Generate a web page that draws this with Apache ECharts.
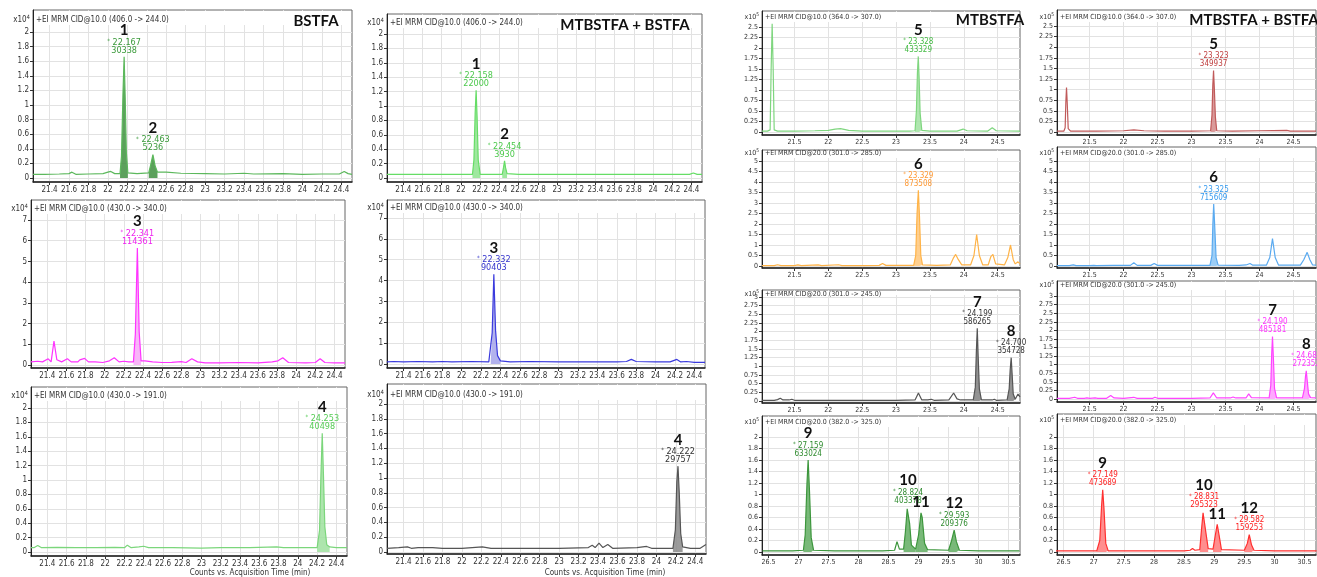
<!DOCTYPE html>
<html><head><meta charset="utf-8">
<script src="https://cdn.jsdelivr.net/npm/echarts@6.0.0/dist/echarts.min.js"></script>
<style>html,body{margin:0;padding:0;background:#fff}#c{width:1317px;height:577px}</style>
</head><body><div id="c"></div><script>
// ---------- tick labels ----------
const ticksLeftX = [21.4,21.6,21.8,22,22.2,22.4,22.6,22.8,23,23.2,23.4,23.6,23.8,24,24.2,24.4];
const ticksRightX = [21.5,22,22.5,23,23.5,24,24.5];
const ticksRight4X = [26.5,27,27.5,28,28.5,29,29.5,30,30.5];
const ticks0to2 = [0,0.2,0.4,0.6,0.8,1,1.2,1.4,1.6,1.8,2];
const ticks0to7 = [0,1,2,3,4,5,6,7];
const ticks0to25 = [0,0.25,0.5,0.75,1,1.25,1.5,1.75,2,2.25,2.5];
const ticks0to5 = [0,0.5,1,1.5,2,2.5,3,3.5,4,4.5,5];
const ticks0to3 = [0,0.25,0.5,0.75,1,1.25,1.5,1.75,2,2.25,2.5,2.75,3];
const ticksB7 = [0,0.2,0.4,0.6,0.8,1,1.2,1.4,1.6,1.8,2];

// ---------- traces [time (min), counts] ----------
const traceA1 = [[21.23,0.05],[21.35,0.05],[21.5,0.055],[21.6,0.06],[21.63,0.08],[21.67,0.05],[21.8,0.055],[21.95,0.06],[22.0,0.08],[22.03,0.09],[22.07,0.06],[22.125,0.06],[22.14,0.3],[22.155,1.15],[22.167,1.66],[22.178,1.1],[22.19,0.35],[22.205,0.07],[22.3,0.06],[22.42,0.07],[22.44,0.18],[22.463,0.32],[22.485,0.17],[22.51,0.08],[22.6,0.08],[22.75,0.065],[23.0,0.06],[23.2,0.055],[23.4,0.065],[23.5,0.055],[23.8,0.06],[24.0,0.05],[24.2,0.055],[24.38,0.055],[24.43,0.09],[24.47,0.06],[24.51,0.05]];
const traceA2 = [[21.23,0.05],[21.5,0.05],[21.8,0.05],[22.0,0.05],[22.12,0.05],[22.135,0.25],[22.148,0.9],[22.158,1.22],[22.168,0.85],[22.18,0.25],[22.2,0.05],[22.35,0.05],[22.43,0.05],[22.444,0.15],[22.454,0.24],[22.465,0.14],[22.48,0.06],[22.6,0.05],[23.0,0.05],[23.5,0.05],[24.0,0.05],[24.38,0.05],[24.42,0.07],[24.46,0.05],[24.51,0.05]];
const traceA3 = [[21.23,0.15],[21.3,0.18],[21.35,0.15],[21.41,0.3],[21.44,0.15],[21.47,1.15],[21.5,0.25],[21.55,0.15],[21.61,0.3],[21.65,0.15],[21.72,0.15],[21.74,0.25],[21.79,0.32],[21.83,0.15],[21.9,0.15],[21.98,0.12],[22.05,0.2],[22.1,0.35],[22.15,0.15],[22.2,0.18],[22.25,0.15],[22.3,0.15],[22.32,1.5],[22.341,5.65],[22.36,1.6],[22.38,0.2],[22.42,0.2],[22.5,0.15],[22.6,0.12],[22.7,0.13],[22.8,0.16],[22.85,0.12],[22.91,0.3],[22.97,0.15],[23.05,0.1],[23.2,0.1],[23.4,0.12],[23.6,0.1],[23.75,0.15],[23.81,0.2],[23.86,0.35],[23.92,0.12],[24.1,0.1],[24.2,0.12],[24.25,0.3],[24.3,0.12],[24.4,0.1],[24.51,0.1]];
const traceA4 = [[21.23,0.1],[21.3,0.12],[21.4,0.1],[21.55,0.12],[21.7,0.1],[21.8,0.12],[21.9,0.1],[22.1,0.12],[22.28,0.1],[22.3,0.15],[22.315,1.5],[22.332,4.3],[22.35,1.6],[22.37,0.4],[22.4,0.15],[22.5,0.1],[22.7,0.12],[23.0,0.1],[23.3,0.1],[23.6,0.1],[23.7,0.12],[23.75,0.22],[23.8,0.12],[24.0,0.1],[24.15,0.1],[24.22,0.22],[24.26,0.1],[24.32,0.12],[24.4,0.08],[24.51,0.08]];
const traceA5 = [[21.23,0.06],[21.26,0.06],[21.3,0.09],[21.34,0.06],[21.5,0.065],[21.7,0.06],[21.9,0.06],[22.1,0.065],[22.2,0.06],[22.23,0.095],[22.27,0.06],[22.35,0.07],[22.4,0.08],[22.45,0.06],[22.7,0.06],[23.0,0.055],[23.2,0.06],[23.5,0.06],[23.78,0.07],[23.85,0.06],[24.1,0.06],[24.2,0.06],[24.225,0.3],[24.24,1.1],[24.253,1.65],[24.265,1.1],[24.28,0.35],[24.3,0.1],[24.33,0.07],[24.4,0.06],[24.51,0.06]];
const traceA6 = [[21.23,0.05],[21.35,0.06],[21.44,0.07],[21.48,0.05],[21.55,0.06],[21.7,0.06],[21.8,0.05],[22.0,0.05],[22.21,0.07],[22.3,0.05],[22.5,0.05],[22.8,0.05],[23.0,0.05],[23.3,0.06],[23.34,0.09],[23.37,0.06],[23.41,0.12],[23.45,0.06],[23.5,0.1],[23.55,0.05],[23.8,0.06],[23.9,0.075],[23.95,0.05],[24.17,0.05],[24.195,0.3],[24.21,0.95],[24.222,1.16],[24.235,0.8],[24.25,0.25],[24.27,0.07],[24.35,0.05],[24.45,0.05],[24.51,0.1]];
const traceB1 = [[21.02,0.02],[21.1,0.02],[21.14,0.05],[21.155,1.5],[21.17,2.58],[21.185,1.5],[21.2,0.05],[21.25,0.02],[21.5,0.02],[21.8,0.03],[22.0,0.04],[22.1,0.07],[22.18,0.08],[22.3,0.04],[22.5,0.02],[22.8,0.02],[23.2,0.02],[23.28,0.03],[23.3,0.5],[23.315,1.4],[23.328,1.8],[23.34,1.3],[23.355,0.45],[23.38,0.04],[23.5,0.02],[23.9,0.02],[23.99,0.07],[24.05,0.03],[24.35,0.02],[24.42,0.1],[24.48,0.03],[24.83,0.02]];
const traceB2 = [[21.02,0.02],[21.12,0.02],[21.14,0.1],[21.15,0.7],[21.16,1.05],[21.17,0.7],[21.185,0.08],[21.22,0.02],[21.6,0.02],[22.0,0.03],[22.15,0.05],[22.3,0.03],[22.6,0.02],[23.0,0.02],[23.28,0.03],[23.3,0.4],[23.312,1.1],[23.323,1.45],[23.335,1.0],[23.35,0.35],[23.37,0.03],[23.6,0.02],[24.0,0.03],[24.4,0.04],[24.45,0.02],[24.83,0.02]];
const traceB3 = [[21.02,0.02],[21.2,0.02],[21.25,0.06],[21.3,0.02],[21.5,0.02],[21.55,0.05],[21.6,0.02],[21.85,0.05],[21.9,0.02],[22.15,0.06],[22.2,0.02],[22.5,0.02],[22.75,0.03],[22.8,0.12],[22.85,0.03],[23.26,0.03],[23.29,0.5],[23.31,2.5],[23.329,3.6],[23.345,2.4],[23.365,0.5],[23.39,0.05],[23.6,0.03],[23.8,0.05],[23.85,0.4],[23.88,0.55],[23.92,0.3],[23.97,0.05],[24.1,0.05],[24.15,0.5],[24.19,1.5],[24.23,0.5],[24.28,0.05],[24.36,0.05],[24.4,0.45],[24.43,0.55],[24.47,0.1],[24.6,0.05],[24.65,0.4],[24.69,1.0],[24.73,0.3],[24.76,0.1],[24.8,0.2],[24.83,0.1]];
const traceB4 = [[21.02,0.02],[21.2,0.02],[21.26,0.05],[21.3,0.02],[21.5,0.02],[21.56,0.03],[21.6,0.02],[21.85,0.03],[22.1,0.03],[22.15,0.15],[22.2,0.03],[22.4,0.03],[22.45,0.12],[22.5,0.03],[23.27,0.03],[23.3,0.5],[23.313,2.0],[23.325,2.95],[23.34,1.9],[23.36,0.4],[23.39,0.04],[23.7,0.03],[23.8,0.05],[23.86,0.12],[23.9,0.04],[24.1,0.04],[24.15,0.4],[24.19,1.3],[24.23,0.4],[24.28,0.04],[24.6,0.04],[24.65,0.3],[24.7,0.65],[24.74,0.3],[24.78,0.05],[24.83,0.04]];
const traceB5 = [[21.02,0.02],[21.2,0.02],[21.25,0.04],[21.29,0.08],[21.33,0.03],[21.42,0.03],[21.46,0.05],[21.5,0.02],[22.0,0.02],[22.5,0.02],[23.0,0.02],[23.28,0.03],[23.33,0.23],[23.38,0.03],[23.47,0.03],[23.52,0.05],[23.56,0.02],[23.78,0.03],[23.85,0.23],[23.9,0.06],[23.95,0.03],[24.14,0.03],[24.17,0.4],[24.185,1.4],[24.199,2.1],[24.212,1.3],[24.23,0.35],[24.26,0.03],[24.42,0.03],[24.45,0.05],[24.48,0.02],[24.64,0.03],[24.67,0.35],[24.685,0.9],[24.7,1.25],[24.713,0.8],[24.73,0.2],[24.76,0.05],[24.8,0.2],[24.83,0.12]];
const traceB6 = [[21.02,0.02],[21.2,0.02],[21.28,0.05],[21.32,0.02],[21.42,0.02],[21.46,0.03],[21.5,0.02],[21.58,0.03],[21.62,0.02],[21.75,0.02],[21.81,0.1],[21.86,0.03],[22.0,0.02],[22.15,0.05],[22.2,0.02],[22.43,0.02],[22.46,0.05],[22.5,0.02],[23.0,0.02],[23.27,0.03],[23.32,0.18],[23.37,0.03],[23.57,0.03],[23.61,0.06],[23.65,0.03],[23.8,0.03],[23.84,0.15],[23.88,0.04],[24.14,0.03],[24.165,0.4],[24.178,1.3],[24.19,1.82],[24.203,1.2],[24.22,0.3],[24.25,0.03],[24.63,0.03],[24.66,0.3],[24.675,0.65],[24.687,0.82],[24.7,0.55],[24.72,0.15],[24.75,0.04],[24.83,0.03]];
const traceB7 = [[26.4,0.02],[26.6,0.02],[26.9,0.02],[27.08,0.03],[27.11,0.3],[27.14,1.2],[27.159,1.6],[27.18,1.1],[27.21,0.25],[27.25,0.03],[27.6,0.02],[28.0,0.02],[28.4,0.02],[28.6,0.03],[28.64,0.18],[28.68,0.05],[28.75,0.05],[28.78,0.35],[28.81,0.75],[28.824,0.78],[28.85,0.5],[28.88,0.12],[28.95,0.05],[29.0,0.3],[29.04,0.68],[29.06,0.6],[29.1,0.15],[29.15,0.04],[29.5,0.03],[29.55,0.2],[29.593,0.38],[29.63,0.18],[29.68,0.03],[30.0,0.02],[30.68,0.02]];
const traceB8 = [[26.37,0.02],[26.7,0.02],[27.05,0.02],[27.1,0.2],[27.13,0.8],[27.149,1.08],[27.17,0.75],[27.2,0.15],[27.24,0.02],[27.6,0.02],[28.0,0.02],[28.5,0.02],[28.6,0.03],[28.64,0.06],[28.68,0.03],[28.76,0.04],[28.79,0.4],[28.815,0.68],[28.831,0.7],[28.86,0.35],[28.9,0.06],[28.98,0.05],[29.02,0.3],[29.05,0.48],[29.08,0.3],[29.12,0.04],[29.5,0.03],[29.55,0.15],[29.582,0.3],[29.62,0.12],[29.66,0.03],[30.0,0.02],[30.7,0.02]];

// ---------- integrated peaks: number, RT, area, apex, window ----------
const peaksA1 = [{n:'1',rt:'22.167',area:'30338',t:22.167,h:1.66,from:22.125,to:22.205},{n:'2',rt:'22.463',area:'5236',t:22.463,h:0.32,from:22.42,to:22.51}];
const peaksA2 = [{n:'1',rt:'22.158',area:'22000',t:22.158,h:1.22,from:22.12,to:22.2},{n:'2',rt:'22.454',area:'3930',t:22.454,h:0.24,from:22.43,to:22.48}];
const peaksA3 = [{n:'3',rt:'22.341',area:'114361',t:22.341,h:5.65,from:22.3,to:22.38}];
const peaksA4 = [{n:'3',rt:'22.332',area:'90403',t:22.332,h:4.3,from:22.3,to:22.4}];
const peaksA5 = [{n:'4',rt:'24.253',area:'40498',t:24.253,h:1.65,from:24.2,to:24.33}];
const peaksA6 = [{n:'4',rt:'24.222',area:'29757',t:24.222,h:1.16,from:24.17,to:24.27}];
const peaksB1 = [{n:'5',rt:'23.328',area:'433329',t:23.328,h:1.8,from:23.28,to:23.38}];
const peaksB2 = [{n:'5',rt:'23.323',area:'349937',t:23.323,h:1.45,from:23.28,to:23.37}];
const peaksB3 = [{n:'6',rt:'23.329',area:'873508',t:23.329,h:3.6,from:23.26,to:23.39}];
const peaksB4 = [{n:'6',rt:'23.325',area:'715609',t:23.325,h:2.95,from:23.27,to:23.39}];
const peaksB5 = [{n:'7',rt:'24.199',area:'586265',t:24.199,h:2.1,from:24.14,to:24.26},{n:'8',rt:'24.700',area:'354728',t:24.7,h:1.25,from:24.64,to:24.76}];
const peaksB6 = [{n:'7',rt:'24.190',area:'485181',t:24.19,h:1.82,from:24.14,to:24.25},{n:'8',rt:'24.687',area:'272352',t:24.687,h:0.82,from:24.63,to:24.75}];
const peaksB7 = [{n:'9',rt:'27.159',area:'633024',t:27.159,h:1.6,from:27.08,to:27.25},{n:'10',rt:'28.824',area:'403378',t:28.824,h:0.78,from:28.75,to:28.95},{n:'11',rt:null,area:null,t:29.04,h:0.68,from:28.95,to:29.15},{n:'12',rt:'29.593',area:'209376',t:29.593,h:0.38,from:29.5,to:29.68}];
const peaksB8 = [{n:'9',rt:'27.149',area:'473689',t:27.149,h:1.08,from:27.05,to:27.24},{n:'10',rt:'28.831',area:'295323',t:28.831,h:0.7,from:28.76,to:28.9},{n:'11',rt:null,area:null,t:29.05,h:0.48,from:28.98,to:29.12},{n:'12',rt:'29.582',area:'159253',t:29.582,h:0.3,from:29.5,to:29.66}];

// ---------- panel layout & styles ----------
const LX = [21.23,24.51], RX = [21.02,24.83], R4X = [26.39,30.69];
const panels = [
 {tr:traceA1,pk:peaksA1,xt:ticksLeftX,yt:ticks0to2,xr:LX,box:[33,10,352,182],yPx:[32,178],line:'#5cb85c',fill:'#3f8f3f',txt:'#3a9a3a',exp:'4',hdr:'+EI MRM CID@10.0 (406.0 -> 244.0)',hy:20,fs:8},
 {tr:traceA2,pk:peaksA2,xt:ticksLeftX,yt:ticks0to2,xr:LX,box:[387,14,702,182],yPx:[34,178],line:'#66dd66',fill:'#8ee48e',txt:'#4cc94c',exp:'4',hdr:'+EI MRM CID@10.0 (406.0 -> 244.0)',hy:23,fs:8},
 {tr:traceA3,pk:peaksA3,xt:ticksLeftX,yt:ticks0to7,xr:LX,box:[31,200,345,368],yPx:[220,365],line:'#ff33ff',fill:'#f7a8f7',txt:'#ee22ee',exp:'4',hdr:'+EI MRM CID@10.0 (430.0 -> 340.0)',hy:209,fs:8},
 {tr:traceA4,pk:peaksA4,xt:ticksLeftX,yt:ticks0to7,xr:LX,box:[387,200,705,368],yPx:[218,364],line:'#3a3add',fill:'#a4a4ea',txt:'#3333cc',exp:'4',hdr:'+EI MRM CID@10.0 (430.0 -> 340.0)',hy:208,fs:8},
 {tr:traceA5,pk:peaksA5,xt:ticksLeftX,yt:ticks0to2,xr:LX,box:[31,387,347,556],yPx:[408,552],line:'#7bd67b',fill:'#9fe09f',txt:'#55cc55',exp:'4',hdr:'+EI MRM CID@10.0 (430.0 -> 191.0)',hy:396,fs:8},
 {tr:traceA6,pk:peaksA6,xt:ticksLeftX,yt:ticks0to2,xr:LX,box:[387,384,706,554],yPx:[404,552],line:'#555555',fill:'#8a8a8a',txt:'#333333',exp:'4',hdr:'+EI MRM CID@10.0 (430.0 -> 191.0)',hy:395,fs:8},
 {tr:traceB1,pk:peaksB1,xt:ticksRightX,yt:ticks0to25,xr:RX,box:[762,11,1020,135],yPx:[27,132],line:'#7fd67f',fill:'#a2e2a2',txt:'#44bb44',exp:'5',hdr:'+EI MRM CID@10.0 (364.0 -> 307.0)',hy:17,fs:7},
 {tr:traceB2,pk:peaksB2,xt:ticksRightX,yt:ticks0to25,xr:RX,box:[1057,10,1316,135],yPx:[26,132],line:'#c05a5a',fill:'#d48a8a',txt:'#c04040',exp:'5',hdr:'+EI MRM CID@10.0 (364.0 -> 307.0)',hy:17,fs:7},
 {tr:traceB3,pk:peaksB3,xt:ticksRightX,yt:ticks0to5,xr:RX,box:[762,150,1020,268],yPx:[161,266],line:'#ffb347',fill:'#ffc77a',txt:'#ff9933',exp:'5',hdr:'+EI MRM CID@20.0 (301.0 -> 285.0)',hy:153,fs:7},
 {tr:traceB4,pk:peaksB4,xt:ticksRightX,yt:ticks0to5,xr:RX,box:[1057,147,1316,268],yPx:[161,266],line:'#5aaaf0',fill:'#8cc6f5',txt:'#3399ee',exp:'5',hdr:'+EI MRM CID@20.0 (301.0 -> 285.0)',hy:153,fs:7},
 {tr:traceB5,pk:peaksB5,xt:ticksRightX,yt:ticks0to3,xr:RX,box:[762,290,1020,403],yPx:[297,401],line:'#555555',fill:'#808080',txt:'#333333',exp:'5',hdr:'+EI MRM CID@20.0 (301.0 -> 245.0)',hy:294,fs:7},
 {tr:traceB6,pk:peaksB6,xt:ticksRightX,yt:ticks0to3,xr:RX,box:[1057,281,1316,402],yPx:[296,399],line:'#ff44ff',fill:'#ff99ff',txt:'#ff33ff',exp:'5',hdr:'+EI MRM CID@20.0 (301.0 -> 245.0)',hy:285,fs:7},
 {tr:traceB7,pk:peaksB7,xt:ticksRight4X,yt:ticksB7,xr:R4X,box:[762,416,1020,555],yPx:[437,552],line:'#3c963c',fill:'#62ad62',txt:'#2e8b2e',exp:'5',hdr:'+EI MRM CID@20.0 (382.0 -> 325.0)',hy:422,fs:7},
 {tr:traceB8,pk:peaksB8,xt:ticksRight4X,yt:ticksB7,xr:R4X,box:[1057,414,1316,555],yPx:[437,552],line:'#ff3030',fill:'#ff7a7a',txt:'#ff2020',exp:'5',hdr:'+EI MRM CID@20.0 (382.0 -> 325.0)',hy:420,fs:7}
];
const titles = [
 {text:'BSTFA',x:316,y:21},{text:'MTBSTFA + BSTFA',x:625,y:25},
 {text:'MTBSTFA',x:990,y:20},{text:'MTBSTFA + BSTFA',x:1254,y:20}
];
const axisTitles = [{x:250,y:573},{x:605,y:573}];

const NARROW = "'Liberation Sans Narrow','DejaVu Sans Condensed','Liberation Sans',Arial,sans-serif";
const fmt = v => String(+(+v).toFixed(3));

const grids=[], xAxes=[], yAxes=[], series=[], graphics=[];
panels.forEach((p,i)=>{
  const [l,t,r,b] = p.box;
  const top = p.yt[p.yt.length-1];
  const s = (p.yPx[1]-p.yPx[0])/top;
  const ymin = -(b-p.yPx[1])/s, ymax = top + (p.yPx[0]-t)/s;
  grids.push({left:l,top:t,width:r-l,height:b-t,show:true,borderColor:'#666',borderWidth:1,containLabel:false});
  xAxes.push({type:'value',gridIndex:i,min:p.xr[0],max:p.xr[1],
    axisLine:{show:true,onZero:false,lineStyle:{color:'#222',width:1.5}},
    axisTick:{show:true,customValues:p.xt,length:3,lineStyle:{color:'#333'}},
    axisLabel:{customValues:p.xt,fontSize:p.fs,color:'#333',margin:4,fontFamily:NARROW,formatter:fmt,showMinLabel:true,showMaxLabel:true},
    splitLine:{show:true,lineStyle:{color:'#e2e2e2',width:1}}});
  yAxes.push({type:'value',gridIndex:i,min:ymin,max:ymax,
    axisLine:{show:true,onZero:false,lineStyle:{color:'#222',width:1}},
    axisTick:{show:true,customValues:p.yt,length:3,lineStyle:{color:'#333'}},
    axisLabel:{customValues:p.yt,fontSize:p.fs,color:'#333',margin:4,fontFamily:NARROW,formatter:fmt},
    splitLine:{show:true,lineStyle:{color:'#e2e2e2',width:1}}});
  p.pk.forEach(k=>{
    series.push({type:'line',xAxisIndex:i,yAxisIndex:i,showSymbol:false,silent:true,
      data:p.tr.filter(d=>d[0]>=k.from&&d[0]<=k.to),
      lineStyle:{width:0},areaStyle:{color:p.fill,opacity:0.85,origin:'auto'},z:2});
  });
  series.push({type:'line',xAxisIndex:i,yAxisIndex:i,showSymbol:false,silent:true,data:p.tr,
    lineStyle:{color:p.line,width:1.2},z:3,
    markPoint:{symbol:'circle',symbolSize:1,itemStyle:{color:'rgba(0,0,0,0)'},silent:true,
      data:p.pk.map(k=>({coord:[k.t,k.h],label:{show:true,position:'top',distance:2,
        formatter: k.rt ? `{n|${k.n}}\n{s|*}{t| ${k.rt}}\n{t|${k.area}}` : `{n|${k.n}}`}})),
      label:{rich:{
        n:{fontFamily:'Lato, Open Sans, sans-serif',fontWeight:'bold',fontSize:15,color:'#111',lineHeight:16,align:'center'},
        s:{fontSize:6,color:p.txt,fontFamily:NARROW,lineHeight:8,verticalAlign:'top'},
        t:{fontSize:p.fs+1,color:p.txt,fontFamily:NARROW,lineHeight:8,align:'center'}}}}});
  // white header band (hides grid lines behind the header text)
  const bandBottom = Math.min(p.hy+5, p.yPx[0]-2);
  if (bandBottom > t+1) graphics.push({type:'rect',z:1,silent:true,shape:{x:l+1,y:t+1,width:r-l-2,height:bandBottom-t-1},style:{fill:'#fff'}});
  // header texts
  graphics.push({type:'text',z:100,x:l-3,y:p.hy,style:{text:'{a|x10}{b|'+p.exp+'}',align:'right',verticalAlign:'middle',
    rich:{a:{fontSize:p.fs,fill:'#333',fontFamily:NARROW},b:{fontSize:p.fs-2,fill:'#333',fontFamily:NARROW,verticalAlign:'top',padding:[0,0,5,0]}}}});
  graphics.push({type:'text',z:100,x:l+3,y:p.hy,style:{text:p.hdr,fontSize:p.fs,fill:'#333',fontFamily:NARROW,verticalAlign:'middle'}});
});
titles.forEach(tt=>graphics.push({type:'text',z:100,x:tt.x,y:tt.y,style:{text:tt.text,fontSize:15,fontWeight:'bold',fontFamily:'Lato, Open Sans, sans-serif',fill:'#111',align:'center',verticalAlign:'middle'}}));
axisTitles.forEach(a=>graphics.push({type:'text',z:100,x:a.x,y:a.y,style:{text:'Counts vs. Acquisition Time (min)',fontSize:8,fill:'#333',fontFamily:NARROW,align:'center',verticalAlign:'middle'}}));

const chart = echarts.init(document.getElementById('c'),null,{renderer:'canvas'});
chart.setOption({animation:false,backgroundColor:'#fff',grid:grids,xAxis:xAxes,yAxis:yAxes,series:series,graphic:graphics});
</script></body></html>
